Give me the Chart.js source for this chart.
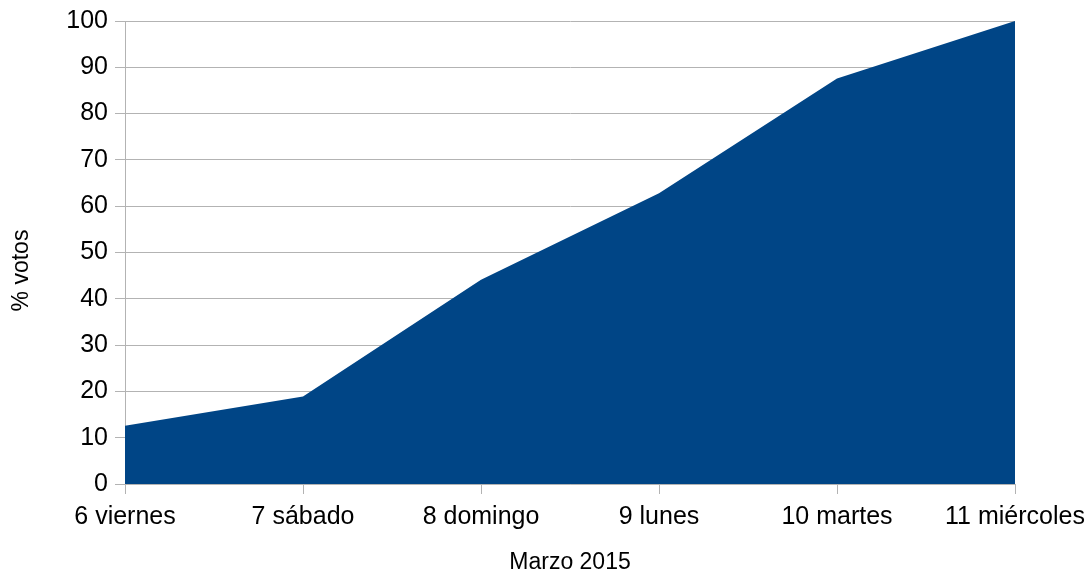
<!DOCTYPE html>
<html>
<head>
<meta charset="utf-8">
<script src="https://cdn.jsdelivr.net/npm/chart.js@4"></script>
<style>
  html, body { margin: 0; padding: 0; background: #fff; }
  #wrap { width: 1087px; height: 576px; }
</style>
</head>
<body>
<div id="wrap"><canvas id="c"></canvas></div>
<script>
const categories = ["6 viernes", "7 sábado", "8 domingo", "9 lunes", "10 martes", "11 miércoles"];
const votePercent = [12.6, 18.9, 44.1, 62.8, 87.6, 100];
const xTitle = "Marzo 2015";
const yTitle = "% votos";
const yMin = 0, yMax = 100, yStep = 10;

const FONT = "'Liberation Sans', Arial, sans-serif";
const GRID = "#b3b3b3";
const TEXT = "#000";

// Draws the vertical axis title slightly below the plot centre, as in the reference.
const yTitlePlugin = {
  id: 'yTitlePlugin',
  afterDraw(chart) {
    const ctx = chart.ctx;
    const a = chart.chartArea;
    ctx.save();
    ctx.font = "23px " + FONT;
    ctx.fillStyle = TEXT;
    ctx.textAlign = 'center';
    ctx.textBaseline = 'middle';
    ctx.translate(22, (a.top + a.bottom) / 2 + 18);
    ctx.rotate(-Math.PI / 2);
    ctx.fillText(yTitle, 0, 0);
    ctx.restore();
  }
};

new Chart(document.getElementById('c'), {
  type: 'line',
  data: {
    labels: categories,
    datasets: [{
      data: votePercent,
      backgroundColor: '#004586',
      borderColor: '#004586',
      borderWidth: 0,
      pointRadius: 0,
      tension: 0,
      fill: 'origin'
    }]
  },
  options: {
    responsive: true,
    maintainAspectRatio: false,
    animation: false,
    layout: { padding: { top: 21, right: 72, left: 0, bottom: 0 } },
    plugins: { legend: { display: false }, tooltip: { enabled: false } },
    scales: {
      x: {
        type: 'category',
        offset: false,
        grid: { display: true, drawOnChartArea: false, color: GRID, tickLength: 10, lineWidth: 1 },
        border: { display: true, color: GRID },
        ticks: { color: TEXT, font: { family: FONT, size: 25 }, padding: 8, maxRotation: 0, autoSkip: false },
        title: { display: true, text: xTitle, color: TEXT, font: { family: FONT, size: 23 }, padding: { top: 0, bottom: 0 } },
        afterFit: s => { s.height = 92; s.paddingLeft = 0; s.paddingRight = 0; }
      },
      y: {
        min: yMin, max: yMax,
        grid: { color: GRID, tickLength: 10, lineWidth: 1 },
        border: { display: true, color: GRID },
        ticks: { stepSize: yStep, color: TEXT, font: { family: FONT, size: 25 }, padding: 7 },
        title: { display: false, text: yTitle },
        afterFit: s => { s.width = 125; s.paddingTop = 0; s.paddingBottom = 0; }
      }
    }
  },
  plugins: [yTitlePlugin]
});
</script>
</body>
</html>
